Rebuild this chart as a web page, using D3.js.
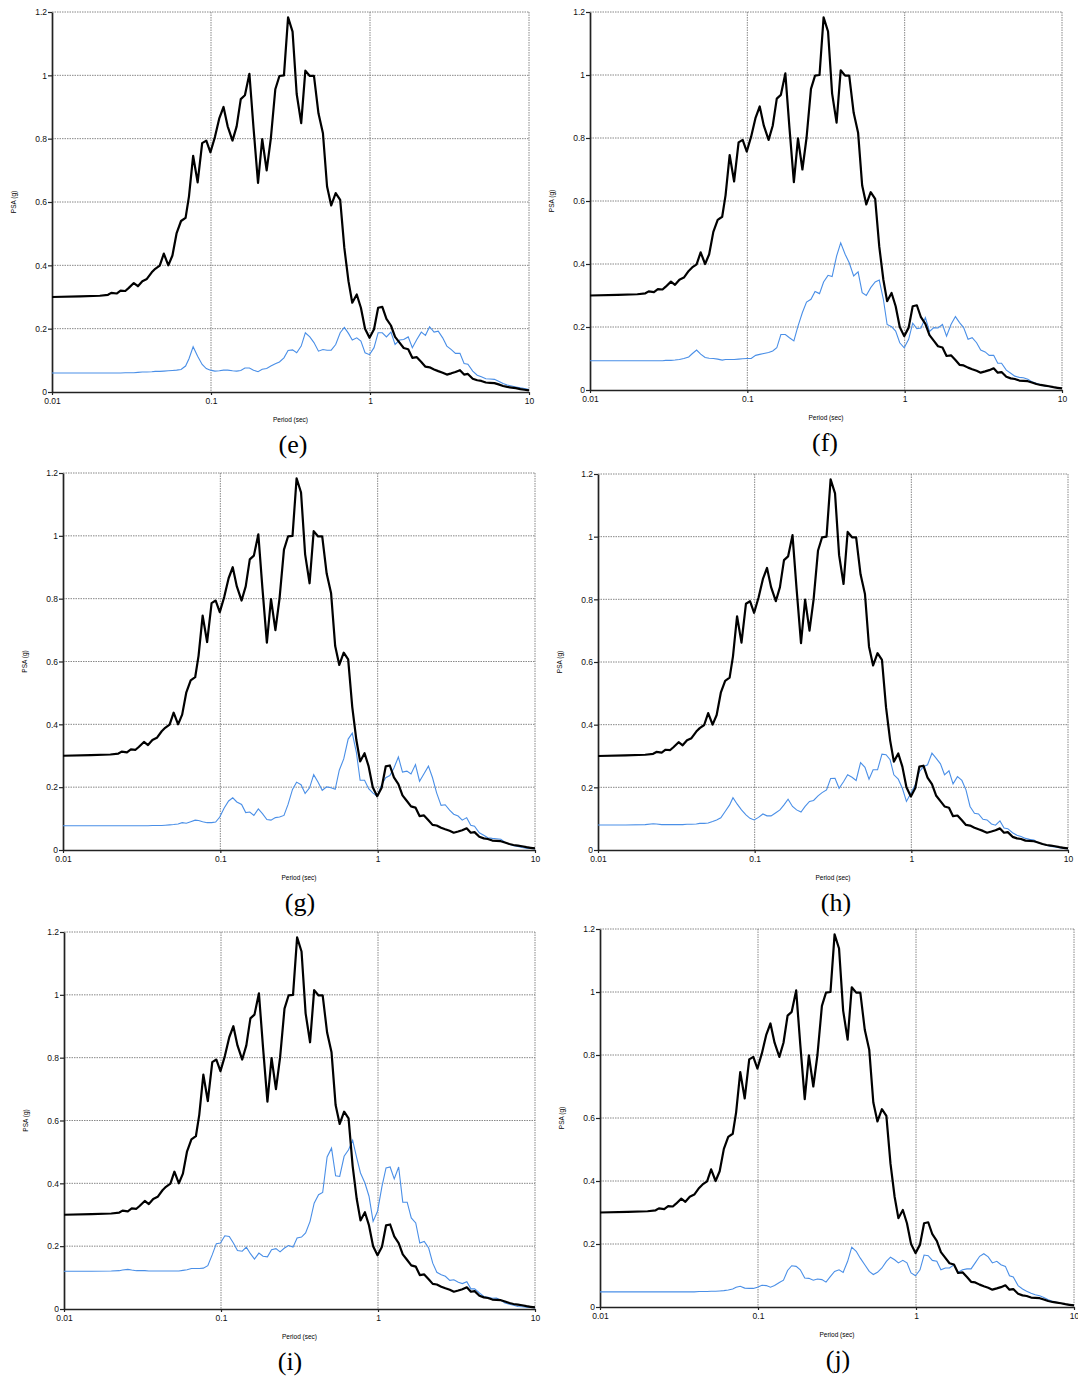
<!DOCTYPE html>
<html>
<head>
<meta charset="utf-8">
<script src="https://cdn.jsdelivr.net/npm/d3@7"></script>
<style>
  body { margin: 0; background: #fff; }
  .tick text { font-family: 'Liberation Sans', Arial, sans-serif; }
</style>
</head>
<body>
<div id="chart"></div>
<script>
// spectral periods (sec), shared by every curve
const PERIODS = [0.010, 0.015, 0.020, 0.0225, 0.0236, 0.0255, 0.0270, 0.0289, 0.0303, 0.0327,
  0.0347, 0.0370, 0.0395, 0.0424, 0.0446, 0.0476, 0.0505, 0.0539, 0.0572, 0.0608,
  0.0648, 0.0692, 0.0727, 0.0772, 0.0824, 0.0880, 0.0934, 0.0992, 0.1058, 0.1129,
  0.1199, 0.1273, 0.1365, 0.1450, 0.1539, 0.1634, 0.1744, 0.1852, 0.1976, 0.2099,
  0.2239, 0.2378, 0.2538, 0.2694, 0.2876, 0.3053, 0.3258, 0.3459, 0.3692, 0.3921,
  0.4183, 0.4442, 0.4741, 0.5058, 0.5370, 0.5702, 0.6085, 0.6494, 0.6896, 0.7322,
  0.7735, 0.8255, 0.8765, 0.9307, 0.9931, 1.060, 1.125, 1.195, 1.269, 1.354,
  1.438, 1.534, 1.629, 1.739, 1.846, 1.970, 2.102, 2.232, 2.370, 2.529,
  2.686, 2.865, 3.043, 3.247, 3.447, 3.679, 3.906, 4.127, 4.426, 4.723,
  5.015, 5.351, 5.683, 6.064, 6.439, 6.871, 7.295, 7.785, 8.267, 8.822,
  9.367, 10.0]

// black curve, same in every panel
const PSA_BLACK = [0.300, 0.302, 0.304, 0.307, 0.313, 0.311, 0.320, 0.319, 0.328, 0.344,
  0.334, 0.350, 0.357, 0.378, 0.389, 0.399, 0.437, 0.400, 0.431, 0.502,
  0.540, 0.550, 0.618, 0.746, 0.662, 0.786, 0.794, 0.757, 0.805, 0.865,
  0.900, 0.839, 0.794, 0.839, 0.925, 0.937, 1.005, 0.833, 0.660, 0.799,
  0.700, 0.800, 0.956, 0.998, 1.000, 1.183, 1.138, 0.941, 0.849, 1.015,
  0.998, 0.998, 0.880, 0.817, 0.649, 0.589, 0.628, 0.607, 0.455, 0.350,
  0.282, 0.308, 0.266, 0.200, 0.171, 0.198, 0.266, 0.269, 0.231, 0.210,
  0.174, 0.156, 0.139, 0.135, 0.108, 0.110, 0.095, 0.080, 0.078, 0.071,
  0.066, 0.061, 0.055, 0.059, 0.063, 0.069, 0.055, 0.057, 0.042, 0.037,
  0.035, 0.030, 0.029, 0.028, 0.024, 0.019, 0.016, 0.014, 0.012, 0.009,
  0.007, 0.005]

const PSA_E = [0.060, 0.060, 0.060, 0.060, 0.060, 0.060, 0.060, 0.061, 0.061, 0.061,
  0.062, 0.063, 0.063, 0.064, 0.065, 0.065, 0.066, 0.067, 0.068, 0.069,
  0.071, 0.082, 0.105, 0.143, 0.113, 0.087, 0.074, 0.069, 0.066, 0.067,
  0.069, 0.069, 0.067, 0.066, 0.068, 0.076, 0.076, 0.069, 0.064, 0.072,
  0.074, 0.082, 0.089, 0.095, 0.108, 0.131, 0.133, 0.124, 0.145, 0.187,
  0.174, 0.156, 0.129, 0.134, 0.132, 0.132, 0.150, 0.187, 0.204, 0.185,
  0.164, 0.171, 0.161, 0.124, 0.118, 0.140, 0.187, 0.187, 0.174, 0.189,
  0.150, 0.164, 0.166, 0.174, 0.140, 0.166, 0.189, 0.179, 0.206, 0.189,
  0.192, 0.171, 0.145, 0.134, 0.122, 0.122, 0.090, 0.088, 0.066, 0.053,
  0.048, 0.042, 0.041, 0.040, 0.034, 0.027, 0.022, 0.019, 0.016, 0.013,
  0.011, 0.008]

const PSA_F = [0.093, 0.093, 0.093, 0.093, 0.093, 0.093, 0.093, 0.093, 0.094, 0.094,
  0.095, 0.097, 0.100, 0.105, 0.115, 0.127, 0.114, 0.103, 0.101, 0.100,
  0.098, 0.095, 0.097, 0.097, 0.097, 0.098, 0.099, 0.100, 0.100, 0.110,
  0.113, 0.116, 0.119, 0.124, 0.134, 0.176, 0.176, 0.166, 0.156, 0.203,
  0.246, 0.279, 0.288, 0.313, 0.306, 0.343, 0.364, 0.360, 0.425, 0.467,
  0.431, 0.404, 0.362, 0.375, 0.309, 0.300, 0.325, 0.343, 0.349, 0.288,
  0.208, 0.201, 0.187, 0.150, 0.134, 0.161, 0.212, 0.195, 0.197, 0.230,
  0.186, 0.198, 0.197, 0.208, 0.171, 0.208, 0.233, 0.214, 0.198, 0.161,
  0.166, 0.150, 0.127, 0.121, 0.110, 0.110, 0.085, 0.085, 0.063, 0.053,
  0.044, 0.040, 0.039, 0.034, 0.026, 0.021, 0.017, 0.013, 0.011, 0.008,
  0.007, 0.005]

const PSA_G = [0.077, 0.077, 0.077, 0.077, 0.077, 0.077, 0.077, 0.077, 0.077, 0.077,
  0.077, 0.078, 0.078, 0.078, 0.079, 0.080, 0.081, 0.083, 0.087, 0.085,
  0.090, 0.095, 0.094, 0.090, 0.087, 0.087, 0.089, 0.105, 0.134, 0.156,
  0.166, 0.153, 0.145, 0.119, 0.121, 0.110, 0.131, 0.116, 0.097, 0.095,
  0.103, 0.105, 0.110, 0.145, 0.193, 0.216, 0.208, 0.180, 0.198, 0.240,
  0.216, 0.190, 0.201, 0.198, 0.193, 0.254, 0.290, 0.353, 0.372, 0.311,
  0.222, 0.222, 0.195, 0.182, 0.171, 0.208, 0.230, 0.237, 0.261, 0.296,
  0.248, 0.251, 0.242, 0.272, 0.219, 0.243, 0.267, 0.230, 0.182, 0.142,
  0.144, 0.127, 0.114, 0.108, 0.095, 0.103, 0.079, 0.076, 0.055, 0.047,
  0.039, 0.037, 0.036, 0.034, 0.025, 0.018, 0.014, 0.011, 0.008, 0.006,
  0.005, 0.004]

const PSA_H = [0.080, 0.080, 0.081, 0.084, 0.083, 0.081, 0.081, 0.081, 0.081, 0.081,
  0.081, 0.082, 0.082, 0.083, 0.085, 0.085, 0.086, 0.091, 0.096, 0.103,
  0.123, 0.144, 0.167, 0.147, 0.128, 0.112, 0.101, 0.096, 0.104, 0.115,
  0.109, 0.109, 0.119, 0.128, 0.144, 0.162, 0.139, 0.128, 0.121, 0.139,
  0.155, 0.158, 0.173, 0.183, 0.192, 0.228, 0.229, 0.197, 0.218, 0.240,
  0.232, 0.222, 0.279, 0.264, 0.226, 0.256, 0.256, 0.306, 0.304, 0.288,
  0.240, 0.226, 0.197, 0.155, 0.181, 0.208, 0.250, 0.266, 0.272, 0.309,
  0.293, 0.275, 0.240, 0.253, 0.211, 0.234, 0.222, 0.192, 0.139, 0.117,
  0.115, 0.098, 0.096, 0.083, 0.079, 0.093, 0.070, 0.068, 0.055, 0.047,
  0.043, 0.037, 0.034, 0.032, 0.023, 0.019, 0.015, 0.011, 0.010, 0.007,
  0.005, 0.004]

const PSA_I = [0.120, 0.120, 0.121, 0.122, 0.124, 0.126, 0.124, 0.122, 0.122, 0.122,
  0.121, 0.121, 0.121, 0.121, 0.121, 0.121, 0.121, 0.121, 0.123, 0.125,
  0.129, 0.129, 0.129, 0.130, 0.138, 0.173, 0.208, 0.210, 0.233, 0.231,
  0.210, 0.186, 0.184, 0.197, 0.176, 0.159, 0.178, 0.168, 0.166, 0.189,
  0.192, 0.182, 0.194, 0.202, 0.197, 0.226, 0.229, 0.242, 0.279, 0.337,
  0.364, 0.371, 0.484, 0.512, 0.424, 0.422, 0.486, 0.507, 0.537, 0.481,
  0.433, 0.401, 0.359, 0.279, 0.311, 0.390, 0.449, 0.452, 0.414, 0.452,
  0.340, 0.340, 0.290, 0.274, 0.210, 0.215, 0.194, 0.146, 0.117, 0.109,
  0.104, 0.091, 0.093, 0.085, 0.081, 0.087, 0.064, 0.064, 0.051, 0.040,
  0.037, 0.034, 0.035, 0.028, 0.019, 0.015, 0.012, 0.008, 0.007, 0.006,
  0.005, 0.004]

const PSA_J = [0.048, 0.048, 0.048, 0.048, 0.048, 0.048, 0.048, 0.048, 0.048, 0.048,
  0.048, 0.048, 0.048, 0.049, 0.049, 0.049, 0.050, 0.050, 0.051, 0.052,
  0.054, 0.057, 0.063, 0.066, 0.060, 0.059, 0.059, 0.063, 0.069, 0.068,
  0.063, 0.068, 0.078, 0.085, 0.116, 0.131, 0.129, 0.118, 0.092, 0.091,
  0.085, 0.089, 0.087, 0.079, 0.097, 0.113, 0.118, 0.110, 0.145, 0.190,
  0.177, 0.155, 0.134, 0.113, 0.103, 0.110, 0.124, 0.145, 0.158, 0.150,
  0.140, 0.148, 0.140, 0.108, 0.099, 0.118, 0.165, 0.163, 0.148, 0.145,
  0.118, 0.124, 0.124, 0.134, 0.110, 0.118, 0.121, 0.121, 0.140, 0.161,
  0.169, 0.159, 0.140, 0.145, 0.134, 0.129, 0.099, 0.095, 0.068, 0.057,
  0.050, 0.044, 0.039, 0.036, 0.030, 0.023, 0.018, 0.015, 0.012, 0.008,
  0.007, 0.006]

const X_TICKS = [0.01, 0.1, 1, 10]
const Y_TICKS = [0, 0.2, 0.4, 0.6, 0.8, 1, 1.2]
const PANEL_LABELS = ['(e)', '(f)', '(g)', '(h)', '(i)', '(j)']
const BLUE_SERIES = [PSA_E, PSA_F, PSA_G, PSA_H, PSA_I, PSA_J]

const LAYOUT = [
  { x0: 52, x1: 529, top: 12, bot: 392, lx: 293 },
  { x0: 590, x1: 1062, top: 12, bot: 390, lx: 825 },
  { x0: 63, x1: 535, top: 473, bot: 850, lx: 300 },
  { x0: 598, x1: 1068, top: 474, bot: 850, lx: 836 },
  { x0: 64, x1: 535, top: 932, bot: 1309, lx: 290 },
  { x0: 600, x1: 1074, top: 929, bot: 1307, lx: 838 },
]

const svg = d3.select('#chart').append('svg')
  .attr('width', 1078).attr('height', 1378)
  .style('background', '#fff')

LAYOUT.forEach((p, k) => {
  const x = d3.scaleLog().domain([0.01, 10]).range([p.x0, p.x1])
  const y = d3.scaleLinear().domain([0, 1.2]).range([p.bot, p.top])
  const g = svg.append('g')

  // dotted grid
  g.selectAll('.vg').data(X_TICKS.slice(1)).join('line')
    .attr('x1', d => x(d)).attr('x2', d => x(d))
    .attr('y1', p.top).attr('y2', p.bot)
    .attr('stroke', '#7a7a7a').attr('stroke-width', 0.9).attr('stroke-dasharray', '1.5,1')
  g.selectAll('.hg').data(Y_TICKS.slice(1)).join('line')
    .attr('x1', p.x0).attr('x2', p.x1)
    .attr('y1', d => y(d)).attr('y2', d => y(d))
    .attr('stroke', '#7a7a7a').attr('stroke-width', 0.9).attr('stroke-dasharray', '1.5,1')

  // axes
  const ax = g.append('g').attr('transform', `translate(${p.x0},0)`)
    .call(d3.axisLeft(y).tickValues(Y_TICKS).tickFormat(d3.format('~g')).tickSize(4).tickSizeOuter(0))
  const bx = g.append('g').attr('transform', `translate(0,${p.bot})`)
    .call(d3.axisBottom(x).tickValues(X_TICKS).tickFormat(d => String(d)).tickSize(3).tickSizeOuter(0))
  ;[ax, bx].forEach(a => {
    a.select('.domain').attr('stroke', '#222').attr('stroke-width', 1.7)
    a.selectAll('.tick line').attr('stroke', '#222').attr('stroke-width', 1.2)
    a.selectAll('.tick text').attr('font-size', 8.5).attr('fill', '#111')
  })
  ax.selectAll('.tick text').attr('x', -5)
  bx.selectAll('.tick text').attr('y', 6)

  // curves
  const line = d3.line().x((d, i) => x(PERIODS[i])).y(d => y(d))
  g.append('path').datum(BLUE_SERIES[k]).attr('d', line)
    .attr('fill', 'none').attr('stroke', '#4a8fe7').attr('stroke-width', 1.1)
  g.append('path').datum(PSA_BLACK).attr('d', line)
    .attr('fill', 'none').attr('stroke', '#000').attr('stroke-width', 2.2).attr('stroke-linejoin', 'round')

  // axis titles
  g.append('text')
    .attr('transform', `translate(${p.x0 - 36},${(p.top + p.bot) / 2}) rotate(-90)`)
    .attr('text-anchor', 'middle').attr('font-size', 6.5)
    .attr('font-family', "'Liberation Sans', Arial, sans-serif").text('PSA (g)')
  g.append('text')
    .attr('x', (p.x0 + p.x1) / 2).attr('y', p.bot + 30)
    .attr('text-anchor', 'middle').attr('font-size', 6.5)
    .attr('font-family', "'Liberation Sans', Arial, sans-serif").text('Period (sec)')

  g.append('text')
    .attr('x', p.lx).attr('y', p.bot + 61)
    .attr('text-anchor', 'middle').attr('font-size', 26)
    .attr('font-family', "'Liberation Serif', 'Times New Roman', serif").text(PANEL_LABELS[k])
})
</script>
</body>
</html>
